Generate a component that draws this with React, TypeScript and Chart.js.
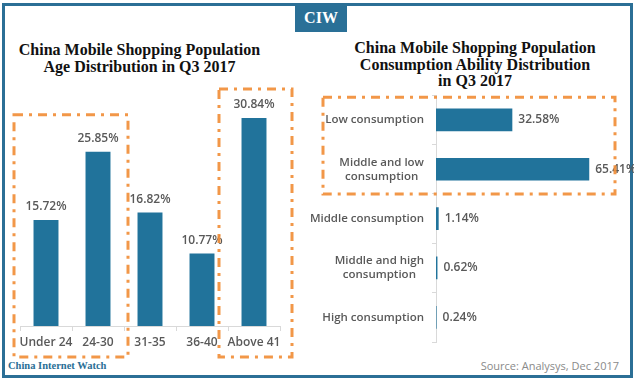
import React, { useEffect, useRef } from "react";
import { Chart, registerables } from "chart.js";

Chart.register(...registerables);

const ageCategories = ["Under 24", "24-30", "31-35", "36-40", "Above 41"];
const ageValues = [15.72, 25.85, 16.82, 10.77, 30.84];
const ageMax = 35;

const consumptionCategories = [
  ["Low consumption"],
  ["Middle and low", "consumption"],
  ["Middle consumption"],
  ["Middle and high", "consumption"],
  ["High consumption"],
];
const consumptionValues = [32.58, 65.41, 1.14, 0.62, 0.24];
const consumptionMax = 70;

const BAR = "#21739b";
const TEXT = "#595959";
const AXIS = "#d9d9d9";
const ORANGE = "rgba(241,142,56,0.92)";
const FRAME = "#2b6f96";
const SANS = "'Open Sans', 'DejaVu Sans', sans-serif";
const SERIF = "'Liberation Serif', 'DejaVu Serif', serif";

function drawDashBox(ctx: CanvasRenderingContext2D, l: number, t: number, r: number, b: number) {
  ctx.save();
  ctx.strokeStyle = ORANGE;
  ctx.lineWidth = 3;
  ctx.setLineDash([9, 6, 3, 6]);
  ctx.strokeRect(l, t, r - l, b - t);
  ctx.restore();
}

const ageDecor = {
  id: "ageDecor",
  afterDatasetsDraw(chart: any) {
    const ctx = chart.ctx;
    const meta = chart.getDatasetMeta(0);
    ctx.save();
    ctx.font = `600 12px ${SANS}`;
    ctx.fillStyle = TEXT;
    ctx.textAlign = "center";
    ctx.textBaseline = "middle";
    meta.data.forEach((bar: any, i: number) => {
      ctx.fillText(ageValues[i].toFixed(2) + "%", bar.x, bar.y - 13);
    });
    ctx.restore();
    const xs = chart.scales.x;
    const ys = chart.scales.y;
    const band = xs.width / ageCategories.length;
    const base = ys.getPixelForValue(0);
    drawDashBox(
      ctx,
      xs.getPixelForValue(0) - band / 2 - 6,
      ys.getPixelForValue(ageValues[1]) - 37,
      xs.getPixelForValue(1) + band / 2 + 4,
      base + 31
    );
    drawDashBox(
      ctx,
      xs.getPixelForValue(4) - band / 2 - 9,
      ys.getPixelForValue(ageValues[4]) - 29,
      xs.getPixelForValue(4) + band / 2 + 12,
      base + 31
    );
  },
};

const consDecor = {
  id: "consDecor",
  afterDatasetsDraw(chart: any) {
    const ctx = chart.ctx;
    const meta = chart.getDatasetMeta(0);
    const ys = chart.scales.y;
    ctx.save();
    ctx.font = `600 12px ${SANS}`;
    ctx.fillStyle = TEXT;
    ctx.textBaseline = "middle";
    ctx.textAlign = "left";
    meta.data.forEach((bar: any, i: number) => {
      ctx.fillText(consumptionValues[i].toFixed(2) + "%", bar.x + 6, bar.y);
    });
    ctx.font = `600 11.5px ${SANS}`;
    const rightEdge = chart.chartArea.left - 12;
    consumptionCategories.forEach((lines, i) => {
      const cy = ys.getPixelForValue(i);
      const maxW = Math.max(...lines.map((s) => ctx.measureText(s).width));
      const cx = rightEdge - maxW / 2;
      ctx.textAlign = "center";
      const lh = 14;
      lines.forEach((s, j) => {
        ctx.fillText(s, cx, cy + (j - (lines.length - 1) / 2) * lh);
      });
    });
    ctx.restore();
    const band = ys.height / consumptionCategories.length;
    drawDashBox(
      ctx,
      chart.chartArea.left - 113,
      ys.getPixelForValue(0) - band / 2 + 2,
      chart.chartArea.right + 15,
      ys.getPixelForValue(1) + band / 2
    );
  },
};

function AgeChart() {
  const ref = useRef<HTMLCanvasElement>(null);
  useEffect(() => {
    const chart = new Chart(ref.current!, {
      type: "bar",
      data: {
        labels: ageCategories,
        datasets: [
          {
            data: ageValues,
            backgroundColor: BAR,
            barPercentage: 0.48,
            categoryPercentage: 1,
          },
        ],
      },
      options: {
        animation: false,
        responsive: false,
        devicePixelRatio: 1,
        layout: { padding: { left: 20, right: 20, top: 10, bottom: 14 } },
        plugins: { legend: { display: false }, tooltip: { enabled: false } },
        scales: {
          x: {
            afterFit: (s: any) => {
              s.height = 30;
            },
            grid: {
              offset: true,
              drawOnChartArea: false,
              drawTicks: true,
              tickLength: 5,
              color: AXIS,
            },
            border: { color: AXIS, width: 1 },
            ticks: {
              color: TEXT,
              font: { family: SANS, size: 12, weight: 600 },
              padding: 4,
              maxRotation: 0,
              autoSkip: false,
            },
          },
          y: { display: false, min: 0, max: ageMax },
        },
      },
      plugins: [ageDecor],
    });
    return () => chart.destroy();
  }, []);
  return (
    <canvas
      ref={ref}
      width={300}
      height={290}
      style={{ position: "absolute", left: 0, top: 80, width: 300, height: 290 }}
    />
  );
}

function ConsumptionChart() {
  const ref = useRef<HTMLCanvasElement>(null);
  useEffect(() => {
    const chart = new Chart(ref.current!, {
      type: "bar",
      data: {
        labels: consumptionCategories.map((l) => l.join(" ")),
        datasets: [
          {
            data: consumptionValues,
            backgroundColor: BAR,
            barPercentage: 0.46,
            categoryPercentage: 1,
          },
        ],
      },
      options: {
        indexAxis: "y",
        animation: false,
        responsive: false,
        devicePixelRatio: 1,
        layout: { padding: { left: 0, right: 34, top: 8, bottom: 13 } },
        plugins: { legend: { display: false }, tooltip: { enabled: false } },
        scales: {
          x: { display: false, min: 0, max: consumptionMax },
          y: {
            afterFit: (s: any) => {
              s.width = 136;
            },
            grid: {
              offset: true,
              drawOnChartArea: false,
              drawTicks: true,
              tickLength: 4,
              color: AXIS,
            },
            border: { color: AXIS, width: 1 },
            ticks: { color: "rgba(0,0,0,0)", font: { size: 12 } },
          },
        },
      },
      plugins: [consDecor],
    });
    return () => chart.destroy();
  }, []);
  return (
    <canvas
      ref={ref}
      width={334}
      height={270}
      style={{ position: "absolute", left: 300, top: 85, width: 334, height: 270 }}
    />
  );
}

export default function App() {
  const titleStyle: React.CSSProperties = {
    position: "absolute",
    fontFamily: SERIF,
    fontWeight: 700,
    fontSize: 16,
    lineHeight: "16.5px",
    color: "#111",
    textAlign: "center",
    whiteSpace: "nowrap",
  };
  return (
    <div
      style={{
        position: "fixed",
        left: 0,
        top: 0,
        width: 634,
        height: 382,
        background: "#fff",
        overflow: "hidden",
      }}
    >
      <div
        style={{
          position: "absolute",
          left: 2,
          top: 3,
          width: 631,
          height: 375,
          boxSizing: "border-box",
          border: `3px solid ${FRAME}`,
        }}
      />
      <div
        style={{
          position: "absolute",
          left: 295,
          top: 4,
          width: 52,
          height: 28,
          background: "#2a7097",
          color: "#fff",
          fontFamily: SERIF,
          fontWeight: 700,
          fontSize: 16,
          lineHeight: "28px",
          textAlign: "center",
        }}
      >
        CIW
      </div>
      <div style={{ ...titleStyle, left: 0, width: 279, top: 42 }}>
        China Mobile Shopping Population
        <br />
        Age Distribution in Q3 2017
      </div>
      <div style={{ ...titleStyle, left: 335, width: 280, top: 40 }}>
        China Mobile Shopping Population
        <br />
        Consumption Ability Distribution
        <br />
        in Q3 2017
      </div>
      <div
        style={{
          position: "absolute",
          left: 8,
          top: 358,
          fontFamily: SERIF,
          fontWeight: 700,
          fontSize: 10.5,
          lineHeight: "16px",
          color: FRAME,
          whiteSpace: "nowrap",
        }}
      >
        China Internet Watch
      </div>
      <div
        style={{
          position: "absolute",
          right: 15,
          top: 358,
          fontFamily: SANS,
          fontSize: 11,
          lineHeight: "16px",
          color: "#8a8a8a",
          whiteSpace: "nowrap",
        }}
      >
        Source: Analysys, Dec 2017
      </div>
      <AgeChart />
      <ConsumptionChart />
    </div>
  );
}
